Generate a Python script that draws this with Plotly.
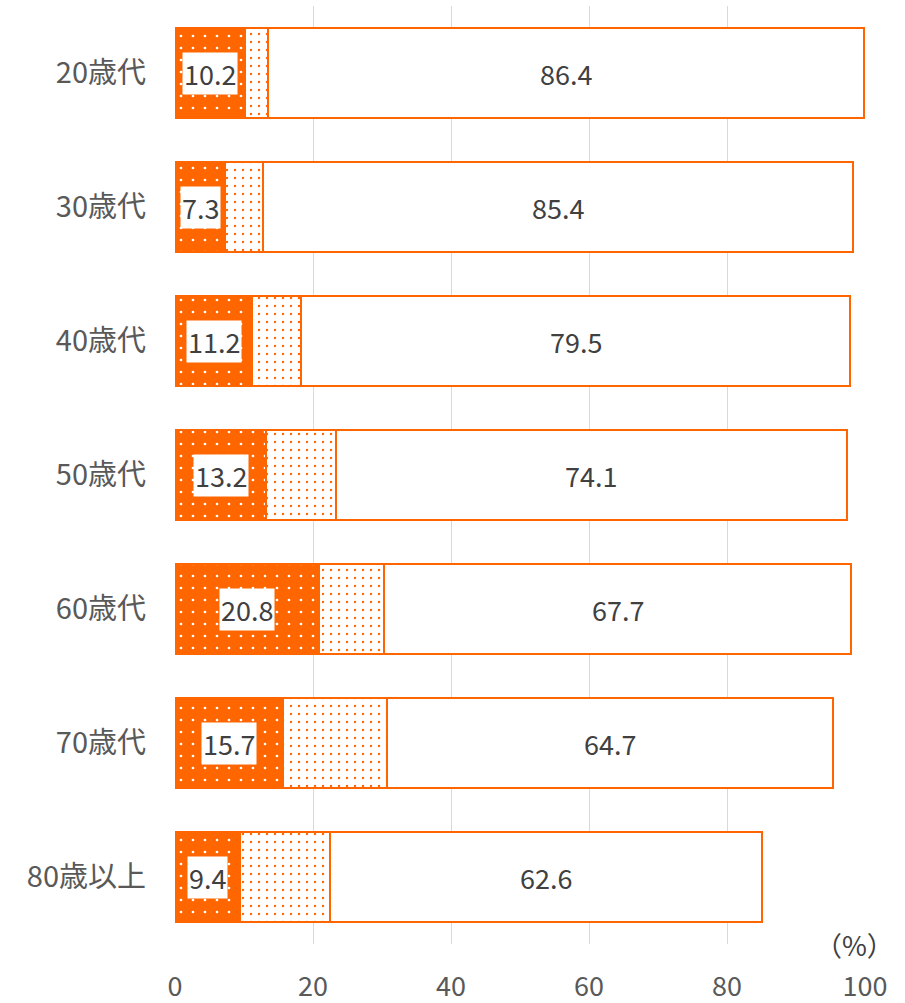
import plotly.graph_objects as go

# Datos (%)
categorias = ["20歳代", "30歳代", "40歳代", "50歳代", "60歳代", "70歳代", "80歳以上"]
serie_a = [10.2, 7.3, 11.2, 13.2, 20.8, 15.7, 9.4]
serie_b = [3.3, 5.5, 7.1, 10.1, 9.5, 15.0, 13.1]
serie_c = [86.4, 85.4, 79.5, 74.1, 67.7, 64.7, 62.6]
ticks_x = [0, 20, 40, 60, 80, 100]

NARANJA = "#FF6600"
GRIS_TXT = "#595959"
FUENTE = "Noto Sans CJK JP"
TAM = 27

fig = go.Figure()

fig.add_trace(go.Bar(
    y=categorias, x=serie_a, orientation="h", name="A",
    marker=dict(color=NARANJA, line=dict(color=NARANJA, width=2),
                pattern=dict(shape=".", fillmode="replace", bgcolor=NARANJA,
                             fgcolor="white", size=12, solidity=0.04)),
))
fig.add_trace(go.Bar(
    y=categorias, x=serie_b, orientation="h", name="B",
    marker=dict(color="white", line=dict(color=NARANJA, width=2),
                pattern=dict(shape=".", fillmode="replace", bgcolor="white",
                             fgcolor=NARANJA, size=8, solidity=0.07)),
))
fig.add_trace(go.Bar(
    y=categorias, x=serie_c, orientation="h", name="C",
    marker=dict(color="white", line=dict(color=NARANJA, width=2)),
))

# Etiquetas de datos
for cat, a, b, c in zip(categorias, serie_a, serie_b, serie_c):
    fig.add_annotation(x=a / 2, y=cat, text=f"{a:.1f}", showarrow=False,
                       bgcolor="white", borderpad=1,
                       font=dict(size=TAM, color="#404040", family=FUENTE))
    fig.add_annotation(x=a + b + c / 2, y=cat, text=f"{c:.1f}", showarrow=False,
                       font=dict(size=TAM, color="#404040", family=FUENTE))

fig.add_annotation(x=0.985, y=0, xref="paper", yref="paper", text="（%）",
                   showarrow=False, xanchor="center", yanchor="middle",
                   font=dict(size=TAM, color="#404040", family=FUENTE))

fig.update_layout(
    barmode="stack", bargap=0.33, showlegend=False,
    width=905, height=1003,
    margin=dict(l=175, r=40, t=6, b=59),
    plot_bgcolor="white", paper_bgcolor="white",
    font=dict(family=FUENTE, size=TAM, color=GRIS_TXT),
)
fig.update_xaxes(
    range=[0, 100], tickvals=ticks_x, showgrid=True, gridcolor="#D9D9D9",
    gridwidth=1, zeroline=False, showline=False, ticklabelstandoff=24,
    tickfont=dict(size=TAM, color=GRIS_TXT), automargin=False,
)
fig.update_yaxes(
    autorange="reversed", showgrid=False, zeroline=False, showline=False,
    ticklabelstandoff=28, tickfont=dict(size=29, color=GRIS_TXT),
    automargin=False,
)

fig.write_html("out.html", config={"displayModeBar": False},
               post_script="document.body.style.margin='0';")
